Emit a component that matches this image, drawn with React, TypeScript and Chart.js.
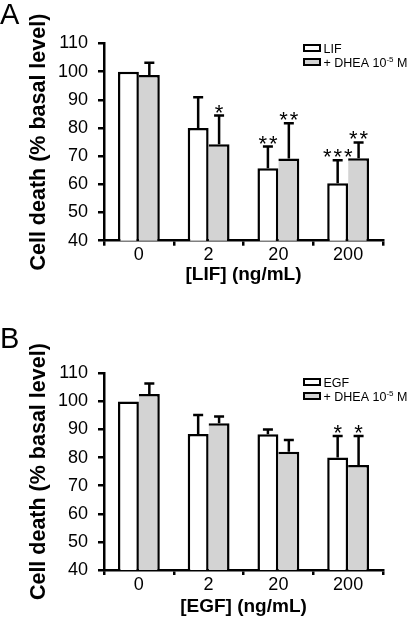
import React, { useEffect, useRef } from 'react';
import { Chart, registerables } from 'chart.js';

Chart.register(...registerables);

// ---------- data ----------
const doses = ['0', '2', '20', '200'];

const lifMeans = [100, 80, 65.7, 60.4];
const lifSD = [0, 10.9, 7.7, 8.2];
const lifDheaMeans = [98.8, 74.2, 69.2, 69.3];
const lifDheaSD = [4.4, 10.2, 12.5, 5.6];
const lifStars = ['', '', '**', '***'];
const lifDheaStars = ['', '*', '**', '**'];

const egfMeans = [100, 88.4, 88.3, 80];
const egfSD = [0, 6.8, 1.7, 7.7];
const egfDheaMeans = [102.6, 92.2, 82.1, 77.4];
const egfDheaSD = [3.8, 2.4, 4.2, 10.3];
const egfStars = ['', '', '', '*'];
const egfDheaStars = ['', '', '', '*'];

const yMin = 40;
const yMax = 110;
const yStep = 10;

const yTitle = 'Cell death (% basal level)';
const dheaLabel = { text: '+ DHEA 10', sup: '-5', after: ' M' };

const FONT = "'Liberation Sans', Arial, Helvetica, sans-serif";
const GRAY = '#d3d3d3';

type Panel = {
  letter: string;
  letterBaseline: number;
  factor: string;
  xTitle: string;
  a: number[]; aSD: number[]; aStars: string[];
  b: number[]; bSD: number[]; bStars: string[];
  padTop: number;
  xHeight: number;
  xTitlePad: number;
  legendTop: number;
};

const panels: Panel[] = [
  {
    letter: 'A', letterBaseline: 24, factor: 'LIF', xTitle: '[LIF] (ng/mL)',
    a: lifMeans, aSD: lifSD, aStars: lifStars,
    b: lifDheaMeans, bSD: lifDheaSD, bStars: lifDheaStars,
    padTop: 43.5, xHeight: 69.3, xTitlePad: 23.6, legendTop: 44,
  },
  {
    letter: 'B', letterBaseline: 38, factor: 'EGF', xTitle: '[EGF] (ng/mL)',
    a: egfMeans, aSD: egfSD, aStars: egfStars,
    b: egfDheaMeans, bSD: egfDheaSD, bStars: egfDheaStars,
    padTop: 63.3, xHeight: 50, xTitlePad: 1.5, legendTop: 68,
  },
];

const annotPlugin = {
  id: 'annot',
  afterDatasetsDraw(chart: any, _args: any, opts: any) {
    const ctx = chart.ctx as CanvasRenderingContext2D;
    const ys = chart.scales.y;
    ctx.save();
    // error bars and stars
    ctx.strokeStyle = '#000';
    ctx.fillStyle = '#000';
    ctx.lineWidth = 2.5;
    (opts.sd as number[][]).forEach((sdArr, di) => {
      const meta = chart.getDatasetMeta(di);
      const data = chart.data.datasets[di].data as number[];
      meta.data.forEach((el: any, j: number) => {
        const x = el.x;
        const top = el.y;
        const yT = ys.getPixelForValue(data[j] + sdArr[j]);
        if (sdArr[j] > 0) {
          ctx.beginPath();
          ctx.moveTo(x, top);
          ctx.lineTo(x, yT);
          ctx.moveTo(x - 5, yT);
          ctx.lineTo(x + 5, yT);
          ctx.stroke();
        }
        const s: string = opts.stars[di][j];
        if (s) {
          ctx.font = `22px ${FONT}`;
          ctx.textAlign = 'center';
          ctx.textBaseline = 'alphabetic';
          const m = ctx.measureText('*');
          const base = yT - 3 - m.actualBoundingBoxDescent;
          const gap = 10.5;
          const n = s.length;
          for (let k = 0; k < n; k++) {
            ctx.fillText('*', x + (k - (n - 1) / 2) * gap, base);
          }
        }
      });
    });
    // legend
    const lx = 304;
    const rows = [
      { fill: '#ffffff', text: opts.factor, sup: '', after: '' },
      { fill: GRAY, text: dheaLabel.text, sup: dheaLabel.sup, after: dheaLabel.after },
    ];
    rows.forEach((r, i) => {
      const top = opts.legendTop + i * 14;
      ctx.fillStyle = r.fill;
      ctx.fillRect(lx, top + 1, 16, 6);
      ctx.lineWidth = 2;
      ctx.strokeStyle = '#000';
      ctx.strokeRect(lx, top + 1, 16, 6);
      ctx.fillStyle = '#000';
      ctx.textAlign = 'left';
      ctx.textBaseline = 'alphabetic';
      ctx.font = `12.5px ${FONT}`;
      let tx = 323.5;
      const base = top + 8.5;
      ctx.fillText(r.text, tx, base);
      tx += ctx.measureText(r.text).width;
      if (r.sup) {
        ctx.font = `8px ${FONT}`;
        ctx.fillText(r.sup, tx, base - 4.5);
        tx += ctx.measureText(r.sup).width;
        ctx.font = `12.5px ${FONT}`;
        ctx.fillText(r.after, tx, base);
      }
    });
    // panel letter
    ctx.font = `29px ${FONT}`;
    ctx.textAlign = 'left';
    ctx.fillText(opts.letter, 0, opts.letterBaseline);
    ctx.restore();
  },
};

function PanelChart({ p }: { p: Panel }) {
  const ref = useRef<HTMLCanvasElement>(null);
  useEffect(() => {
    if (!ref.current) return;
    const chart = new Chart(ref.current, {
      type: 'bar',
      data: {
        labels: doses,
        datasets: [
          {
            label: p.factor,
            data: p.a,
            backgroundColor: '#ffffff',
            borderColor: '#000000',
            borderWidth: { top: 2.5, left: 2.5, right: 2.5, bottom: 0 } as any,
            borderSkipped: false as any,
            categoryPercentage: 0.6,
            barPercentage: 1,
          },
          {
            label: 'DHEA',
            data: p.b,
            backgroundColor: GRAY,
            borderColor: '#000000',
            borderWidth: { top: 2.5, left: 0, right: 2.5, bottom: 0 } as any,
            borderSkipped: false as any,
            categoryPercentage: 0.6,
            barPercentage: 1,
          },
        ],
      },
      options: {
        animation: false,
        responsive: false,
        events: [],
        layout: { padding: { top: p.padTop, right: 33, left: 0, bottom: 0 } },
        plugins: {
          legend: { display: false },
          tooltip: { enabled: false },
          annot: {
            sd: [p.aSD, p.bSD],
            stars: [p.aStars, p.bStars],
            factor: p.factor,
            letter: p.letter,
            letterBaseline: p.letterBaseline,
            legendTop: p.legendTop,
          },
        } as any,
        scales: {
          x: {
            offset: true,
            afterFit: (s: any) => { s.height = p.xHeight; },
            grid: {
              display: true,
              offset: true,
              drawOnChartArea: false,
              drawTicks: true,
              tickLength: 5,
              color: '#000',
              lineWidth: 2.5,
            },
            border: { display: true, color: '#000', width: 2.5 },
            ticks: { color: '#000', font: { family: FONT, size: 18 }, padding: -1 },
            title: {
              display: true,
              text: p.xTitle,
              color: '#000',
              font: { family: FONT, size: 19, weight: 'bold' },
              padding: { top: 0, bottom: p.xTitlePad },
            },
          },
          y: {
            min: yMin,
            max: yMax,
            afterFit: (s: any) => { s.width = 104; },
            grid: {
              display: true,
              drawOnChartArea: false,
              drawTicks: true,
              tickLength: 6,
              color: '#000',
              lineWidth: 2.5,
            },
            border: { display: true, color: '#000', width: 2.5 },
            ticks: { stepSize: yStep, color: '#000', font: { family: FONT, size: 18 }, padding: 10 },
            title: {
              display: true,
              text: yTitle,
              color: '#000',
              font: { family: FONT, size: 21.5, weight: 'bold' },
              padding: { top: 26, bottom: 0 },
            },
          },
        },
      },
      plugins: [annotPlugin as any],
    });
    return () => chart.destroy();
  }, [p]);
  return <canvas ref={ref} width={416} height={310} style={{ display: 'block', width: 416, height: 310 }} />;
}

export default function App() {
  return (
    <div style={{ position: 'absolute', left: 0, top: 0, width: 416, height: 620, background: '#fff' }}>
      {panels.map((p) => (
        <PanelChart key={p.letter} p={p} />
      ))}
    </div>
  );
}
